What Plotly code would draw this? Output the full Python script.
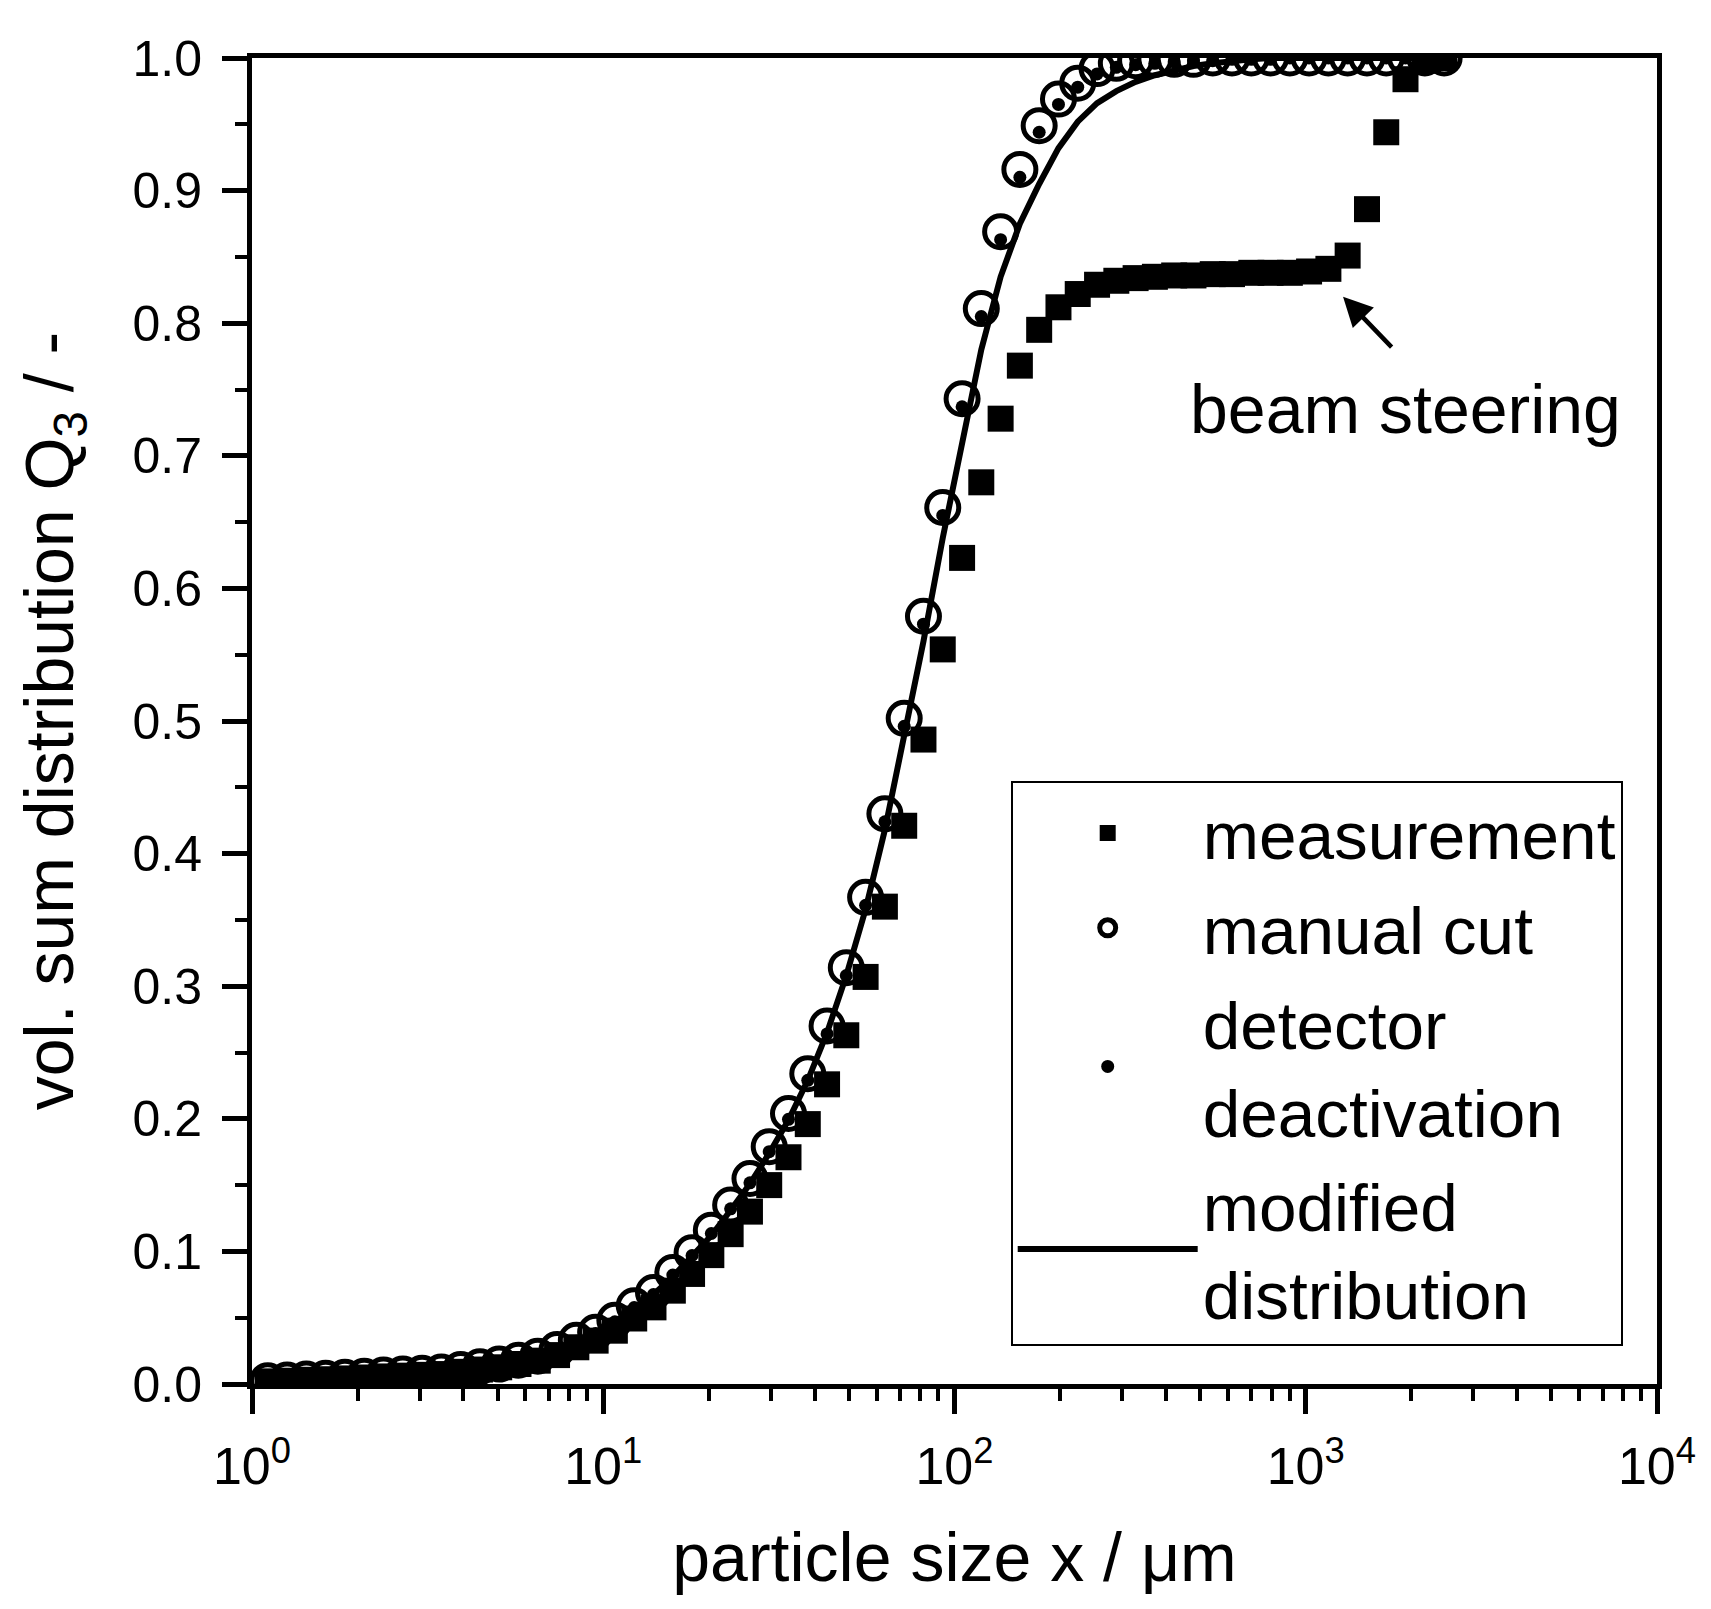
import numpy as np
import plotly.graph_objects as go

# particle size classes (um), shared by all series
size_um = [1.109, 1.259, 1.428, 1.621, 1.839, 2.087, 2.368, 2.688, 3.050, 3.461,
           3.926, 4.456, 5.056, 5.737, 6.511, 7.387, 8.383, 9.513, 10.79, 12.25,
           13.90, 15.78, 17.90, 20.31, 23.05, 26.16, 29.68, 33.68, 38.22, 43.37,
           49.20, 55.84, 63.36, 71.91, 81.59, 92.58, 105.1, 119.2, 135.3, 153.5,
           174.2, 197.7, 224.3, 254.6, 288.9, 327.8, 372.0, 422.1, 479.0, 543.5,
           616.6, 699.8, 794.0, 901.0, 1022, 1160, 1316, 1494, 1695, 1923,
           2183, 2477]

measurement = [0.002, 0.0025, 0.0032, 0.0036, 0.0042, 0.0049, 0.0057, 0.0063, 0.0069, 0.0075,
               0.0092, 0.0109, 0.0126, 0.0151, 0.0176, 0.0218, 0.0277, 0.0327, 0.0402, 0.0494,
               0.0578, 0.0704, 0.083, 0.0972, 0.113, 0.130, 0.150, 0.171, 0.196, 0.226,
               0.263, 0.307, 0.360, 0.421, 0.486, 0.554, 0.623, 0.680, 0.728, 0.768,
               0.795, 0.812, 0.822, 0.829, 0.832, 0.834, 0.835, 0.836, 0.836, 0.837,
               0.837, 0.838, 0.838, 0.838, 0.839, 0.841, 0.851, 0.886, 0.944, 0.984,
               0.998, 1.0]

manual_cut = [0.0025, 0.003, 0.0038, 0.0043, 0.005, 0.0058, 0.0068, 0.0075, 0.0082, 0.009,
              0.011, 0.013, 0.015, 0.018, 0.021, 0.026, 0.033, 0.039, 0.048, 0.059,
              0.069, 0.084, 0.099, 0.116, 0.135, 0.155, 0.179, 0.204, 0.234, 0.270,
              0.314, 0.367, 0.430, 0.502, 0.579, 0.661, 0.743, 0.811, 0.869, 0.916,
              0.949, 0.969, 0.981, 0.992, 0.996, 0.998, 0.999, 0.999, 0.999, 1.0,
              1.0, 1.0, 1.0, 1.0, 1.0, 1.0, 1.0, 1.0, 1.0, 1.0,
              1.0, 1.0]

detector_deact = [0.0024, 0.0029, 0.0037, 0.0042, 0.0049, 0.0057, 0.0066, 0.0073, 0.008, 0.0088,
                  0.0107, 0.0127, 0.0146, 0.0176, 0.0205, 0.0254, 0.0322, 0.0381, 0.0469, 0.0577,
                  0.0675, 0.0822, 0.0969, 0.1135, 0.1321, 0.1517, 0.1752, 0.1996, 0.229, 0.264,
                  0.308, 0.361, 0.424, 0.496, 0.573, 0.655, 0.737, 0.805, 0.863, 0.910,
                  0.944, 0.965, 0.978, 0.988, 0.993, 0.995, 0.996, 0.997, 0.998, 0.998,
                  0.999, 0.999, 0.999, 1.0, 1.0, 1.0, 1.0, 1.0, 1.0, 1.0,
                  1.0, 1.0]

modified = [0.0024, 0.003, 0.0037, 0.0043, 0.005, 0.0057, 0.0066, 0.0074, 0.0081, 0.0089,
            0.0108, 0.0128, 0.0148, 0.0177, 0.0207, 0.0256, 0.0323, 0.0383, 0.047, 0.0578,
            0.0675, 0.081, 0.096, 0.112, 0.131, 0.151, 0.174, 0.199, 0.229, 0.265,
            0.308, 0.358, 0.418, 0.487, 0.560, 0.638, 0.712, 0.780, 0.835, 0.875,
            0.905, 0.932, 0.952, 0.966, 0.975, 0.982, 0.987, 0.991, 0.994, 0.996,
            0.998, 0.999, 1.0, 1.0, 1.0, 1.0, 1.0, 1.0, 1.0, 1.0,
            1.0, 1.0]

x_ticks = [1, 10, 100, 1000, 10000]
x_ticktext = ['10<sup>0</sup>', '10<sup>1</sup>', '10<sup>2</sup>', '10<sup>3</sup>', '10<sup>4</sup>']
x_minor = [m * 10 ** d for d in range(4) for m in range(2, 10)]

arrow_tip = (1277, 0.820)
label_pos = (1925, 0.735)

FONT = "Liberation Sans, Arial, sans-serif"

fig = go.Figure()

fig.add_trace(go.Scatter(x=size_um, y=measurement, mode='markers', name='measurement',
                         legendgroup='a',
                         marker=dict(symbol='square', size=26, color='black', line=dict(width=0))))
fig.add_trace(go.Scatter(x=size_um, y=manual_cut, mode='markers', name='manual cut',
                         legendgroup='b',
                         marker=dict(symbol='circle-open', size=32, color='black',
                                     line=dict(width=5, color='black'))))
fig.add_trace(go.Scatter(x=size_um, y=detector_deact, mode='markers',
                         name='detector<br>deactivation', legendgroup='c',
                         marker=dict(symbol='circle', size=13, color='black')))
fig.add_trace(go.Scatter(x=size_um, y=modified, mode='lines',
                         name='modified<br>distribution', legendgroup='d',
                         line=dict(color='black', width=6)))

axis_common = dict(showline=True, linewidth=5, linecolor='black', mirror=True,
                   showgrid=False, zeroline=False, ticks='outside', ticklen=25,
                   tickwidth=5, tickcolor='black')

fig.update_xaxes(type='log', range=[0, 4], tickmode='array', tickvals=x_ticks,
                 ticktext=x_ticktext, ticklabelstandoff=8,
                 tickfont=dict(size=52, color='black', family=FONT),
                 minor=dict(tickmode='array', tickvals=x_minor, ticks='outside',
                            ticklen=12, tickwidth=4, tickcolor='black', showgrid=False),
                 title=dict(text='particle size x / μm', standoff=40,
                            font=dict(size=68, color='black', family=FONT)),
                 **axis_common)
fig.update_yaxes(range=[0, 1], dtick=0.1, tick0=0, tickformat='.1f', ticklabelstandoff=10,
                 tickfont=dict(size=50, color='black', family=FONT),
                 minor=dict(dtick=0.05, ticks='outside', ticklen=12, tickwidth=4,
                            tickcolor='black', showgrid=False),
                 title=dict(text='vol. sum distribution Q<sub>3</sub> / -', standoff=38,
                            font=dict(size=68, color='black', family=FONT)),
                 **axis_common)

fig.add_annotation(x=np.log10(arrow_tip[0]), y=arrow_tip[1], text='', showarrow=True,
                   ax=50, ay=52, arrowhead=2, arrowsize=1.3, arrowwidth=4.5, arrowcolor='black')
fig.add_annotation(x=np.log10(label_pos[0]), y=label_pos[1], text='beam steering',
                   showarrow=False, xanchor='center', yanchor='middle',
                   font=dict(size=68, color='black', family=FONT))

fig.update_layout(
    width=1711, height=1609, autosize=False,
    margin=dict(l=244, r=62, t=50, b=233),
    paper_bgcolor='white', plot_bgcolor='white',
    font=dict(family=FONT, color='black'),
    legend=dict(x=0.540, y=0.455, xanchor='left', yanchor='top',
                bordercolor='black', borderwidth=2, bgcolor='white',
                font=dict(size=67.5, color='black', family=FONT),
                itemwidth=180, tracegroupgap=4, itemsizing='trace'),
)

fig.write_html("out.html")
